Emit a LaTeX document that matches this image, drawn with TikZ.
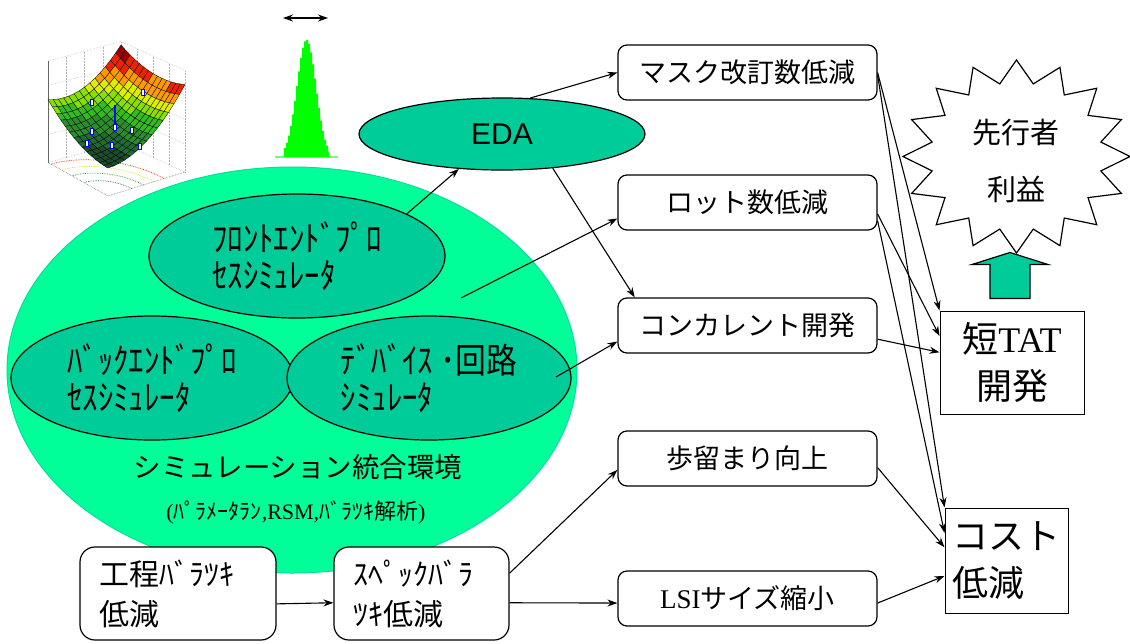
\documentclass[tikz,border=0pt]{standalone}
\usepackage{fontspec}
\setmainfont{Liberation Serif}
\newfontfamily\jp{Noto Sans CJK JP}
\newfontfamily\jpnarrow[FakeStretch=0.88]{Noto Sans CJK JP}
\newfontfamily\arial{Liberation Sans}
\usetikzlibrary{shapes.geometric,arrows.meta,calc}

\definecolor{envgreen}{HTML}{00FF99}
\definecolor{simteal}{HTML}{00CC99}
\definecolor{histgreen}{HTML}{00FF00}
\definecolor{band0}{HTML}{1B4D2B}
\definecolor{band1}{HTML}{1F6B35}
\definecolor{band2}{HTML}{2A8F2A}
\definecolor{band3}{HTML}{33BB22}
\definecolor{band4}{HTML}{88E000}
\definecolor{band5}{HTML}{DDEE00}
\definecolor{band6}{HTML}{FF9900}
\definecolor{band7}{HTML}{EE2200}
\definecolor{band8}{HTML}{990000}

\begin{document}
\begin{tikzpicture}
    [x=1pt,y=-1pt,>={Stealth[length=10pt,width=7pt]},
     every node/.style={inner sep=0pt},
     tool/.style={ellipse,draw,line width=1.2pt,fill=simteal,align=left,
       minimum width=#1,minimum height=124pt,font=\jpnarrow\fontsize{35}{37}\selectfont},
     effect/.style={draw,fill=white,rounded corners=9pt,line width=1.2pt,
       minimum width=259pt,minimum height=55pt,font=\jp\fontsize{27}{32}\selectfont},
     cause/.style={draw,fill=white,rounded corners=15pt,line width=1.2pt,
       minimum height=93pt,inner xsep=19pt,align=left,font=\jp\fontsize{30}{40}\selectfont},
     goal/.style={draw,fill=white,line width=1pt,font=\jp\fontsize{36}{47}\selectfont},
     link/.style={->,line width=1.1pt},
     wall/.style={black!30,densely dotted,line width=0.5pt}]
    \useasboundingbox (0,0) rectangle (1130,643);

    % response surface: back walls, floor, then the cells back to front
    \foreach \t in {0,0.25,0.5,0.75,1}{
      \draw[wall] ({108+77*\t-60-4*\t},{196-24*\t-33.5+4.5*\t})
        -- ({108+77*\t-60-4*\t},{94.5-24*\t-33.5+4.5*\t});
      \draw[wall] ({185-64*\t},{172-29*\t}) -- ({185-64*\t},{70.5-29*\t});
    }
    \foreach \z in {-0.4,0,0.35,0.7,1.05}{
      \draw[wall] (48,{134.5-70*\z}) -- (121,{115-70*\z}) -- (185,{144-70*\z});
    }
    \draw[black!55,densely dotted,line width=0.6pt] (48,162.5) -- (108,196) -- (185,172);
    \draw[black!60,line width=0.8pt] (48,162.5) -- (48,61);
    \foreach \c/\col in {0.08/band1,0.18/band2,0.3/band5,0.45/band7}{
      \draw[\col,densely dotted,line width=0.7pt]
        plot[domain=0:90,samples=16,variable=\a]
        ({108+77*sqrt(\c/0.85)*cos(\a)-60*sqrt(\c/0.5)*sin(\a)},
         {196-24*sqrt(\c/0.85)*cos(\a)-33.5*sqrt(\c/0.5)*sin(\a)});
    }
    \foreach \i in {0,...,14}{
      \foreach \j in {0,...,14}{
        \pgfmathsetmacro\su{\i/14}
        \pgfmathsetmacro\sv{\j/14}
        \coordinate (s-\i-\j) at ({108+77*\su-60*\sv-4*\su*\sv},
          {168-24*\su-33.5*\sv+4.5*\su*\sv-70*(0.85*\su*\su+0.5*\sv*\sv-0.35*\su*\sv)});
      }
    }
    \foreach \i in {13,12,...,0}{
      \foreach \j in {13,12,...,0}{
        \pgfmathtruncatemacro\ni{\i+1}
        \pgfmathtruncatemacro\nj{\j+1}
        \pgfmathsetmacro\zc{0.85*((\i+0.5)/14)^2+0.5*((\j+0.5)/14)^2-0.35*(\i+0.5)*(\j+0.5)/196}
        \pgfmathtruncatemacro\band{min(8,9*(\zc)^0.85)}
        \filldraw[fill=band\band,draw=black,line width=0.3pt]
          (s-\i-\j) -- (s-\ni-\j) -- (s-\ni-\nj) -- (s-\i-\nj) -- cycle;
      }
    }
    \draw[blue,line width=1.4pt] (115,105) -- (115,127);
    \foreach \p in {(92,102),(143,92),(92,131),(132,130),(112,145),(87,143),(140,146),(115,127)}
      \filldraw[fill=white,draw=blue,line width=0.8pt] \p ++(-1.5,-3) rectangle ++(3,6);

    % spread of the distribution
    \draw[histgreen!55!white,line width=1.5pt] (275,157) -- (338,157);
    \fill[histgreen] (284,157) -- plot[const plot,domain=284:328,samples=23]
      (\x,{157-117*exp(-((\x-305.5)^2)/180)}) -- (330,157) -- cycle;
    \coordinate (spreadL) at (283,18);
    \coordinate (spreadR) at (328,18);
    \draw[<->,line width=1.4pt] (spreadL) -- (spreadR);

    % simulation environment
    \node[ellipse,fill=envgreen,draw=simteal!60!envgreen,line width=1pt,
      minimum width=570pt,minimum height=406pt] (env) at (292,370) {};
    \node[tool=296pt] (fe) at (297,256) {ﾌﾛﾝﾄｴﾝﾄﾞﾌﾟﾛ\\ｾｽｼﾐｭﾚｰﾀ};
    \node[tool=282pt] (be) at (152,378) {ﾊﾞｯｸｴﾝﾄﾞﾌﾟﾛ\\ｾｽｼﾐｭﾚｰﾀ};
    \node[tool=284pt] (dev) at (429,378) {ﾃﾞﾊﾞｲｽ ･回路\\ｼﾐｭﾚｰﾀ};
    \node[font=\jp\fontsize{27.5}{30}\selectfont] (envname) at (298,467) {シミュレーション統合環境};
    \node[font=\jp\fontsize{22}{24}\selectfont] (envtools) at (296,512)
      {{\rmfamily(}ﾊﾟﾗﾒｰﾀﾗﾝ{\rmfamily,RSM,}ﾊﾞﾗﾂｷ解析{\rmfamily)}};

    \node[ellipse,draw,line width=1.2pt,fill=simteal,minimum width=286pt,
      minimum height=72pt,font=\arial\fontsize{30}{30}\selectfont] (eda) at (502,134) {EDA};

    % effects
    \node[effect] (mask) at (747.5,72.5) {マスク改訂数低減};
    \node[effect] (lot) at (747.5,202.5) {ロット数低減};
    \node[effect] (conc) at (747.5,325.5) {コンカレント開発};
    \node[effect] (yield) at (747.5,458.5) {歩留まり向上};
    \node[effect] (shrink) at (747.5,598.5) {{\rmfamily LSI}サイズ縮小};

    \node[cause,text width=158pt] (proc) at (178,593.5) {工程ﾊﾞﾗﾂｷ\\低減};
    \node[cause,text width=137pt] (spec) at (421.5,593.5) {ｽﾍﾟｯｸﾊﾞﾗ\\ﾂｷ低減};

    \node[goal,minimum width=144pt,minimum height=103pt,align=center] (tat)
      at (1012,362.5) {短{\rmfamily TAT}\\開発};
    \node[goal,minimum width=123pt,minimum height=105pt,align=left] (cost)
      at (1006.5,560.5) {コスト\\低減};

    % first-mover gain
    \draw[line width=1.2pt] plot[samples at={0,...,31},variable=\k]
      ({1016.5+(113.5-27.5*mod(\k,2))*cos(90+11.25*\k)},
       {156.5-(96.5-22.5*mod(\k,2))*sin(90+11.25*\k)}) -- cycle;
    \node[font=\jp\fontsize{29}{57}\selectfont,align=center] (gain) at (1016,161) {先行者\\利益};
    \coordinate (rise) at ($(tat.north)+(-2,-12)$);
    \filldraw[fill=simteal,line width=1.2pt,line join=miter] (rise) ++(-20,0) -- ++(0,-34)
      -- ++(-18,0) -- ++(38,-12) -- ++(38,12) -- ++(-18,0) -- ++(0,34) -- cycle;

    % links
    \draw[link] (fe.21) -- (eda.219);
    \draw[link] (eda.52) -- (mask.west);
    \draw[link] (eda.-34) -- (conc.166);
    \coordinate (envout) at (461,298);
    \draw[link] (envout) -- (lot.187);
    \coordinate (devout) at (556,377);
    \draw[link] (devout) -- (conc.187);
    \draw[link] (proc.-6) -- (spec.186);
    \draw[link] (spec.13) -- (yield.185);
    \draw[link] (spec.-6) -- (shrink.182);
    \draw[link] (mask.east) -- (tat.north west);
    \draw[link] (mask.-1) -- (cost.north west);
    \draw[link] (lot.-5) -- (tat.160);
    \draw[link] (lot.-8) -- (cost.156);
    \draw[link] (conc.-6) -- (tat.172);
    \draw[link] (yield.-4) -- (cost.168);
    \draw[link] (shrink.-2) -- (cost.194);
\end{tikzpicture}
\end{document}
